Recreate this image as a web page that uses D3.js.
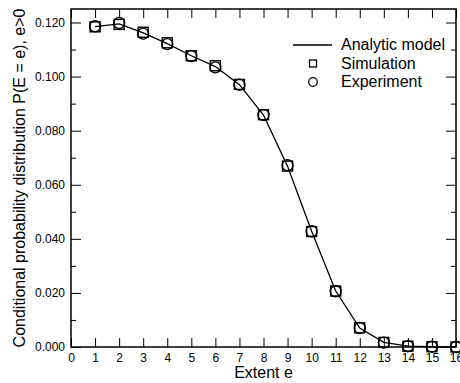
<!DOCTYPE html>
<html>
<head>
<meta charset="utf-8">
<script src="https://cdn.jsdelivr.net/npm/d3@7"></script>
<style>
  body { margin: 0; background: #fff; }
  text { font-family: "Liberation Sans", Arial, sans-serif; }
</style>
</head>
<body>
<script>
const extent = [1, 2, 3, 4, 5, 6, 7, 8, 9, 10, 11, 12, 13, 14, 15, 16]
const analytic = [0.1185, 0.1195, 0.1162, 0.1122, 0.1077, 0.1037, 0.0970, 0.0858,
  0.0668, 0.0428, 0.0207, 0.0070, 0.0017, 0.0003, 0.0001, 0.0000]
const simulation = [0.1184, 0.1193, 0.1164, 0.1125, 0.1077, 0.1040, 0.0971, 0.0859,
  0.0669, 0.0427, 0.0207, 0.0071, 0.0017, 0.0003, 0.0001, 0.0000]
const experiment = [0.1186, 0.1198, 0.1159, 0.1120, 0.1076, 0.1034, 0.0970, 0.0858,
  0.0672, 0.0428, 0.0206, 0.0070, 0.0016, 0.0003, 0.0001, 0.0000]
const xTicks = d3.range(0, 17)
const yMajor = [0, 0.02, 0.04, 0.06, 0.08, 0.1, 0.12]
const yMinor = [0.01, 0.03, 0.05, 0.07, 0.09, 0.11]
const legendItems = ['Analytic model', 'Simulation', 'Experiment']

const margin = {top: 9, right: 4, bottom: 36, left: 71}
const width = 460 - margin.left - margin.right,
  height = 383 - margin.top - margin.bottom

const svg = d3.select('body').append('svg')
  .attr('width', 460)
  .attr('height', 383)

const x = d3.scaleLinear().domain([0, 16]).range([0, width])
const y = d3.scaleLinear().domain([0, 0.125]).range([height, 0])

const g = svg.append('g').attr('transform', `translate(${margin.left},${margin.top})`)

// inward ticks on all four sides
g.append('g').attr('transform', `translate(0,${height})`)
  .call(d3.axisBottom(x).tickValues(xTicks).tickSize(-9).tickPadding(6).tickFormat(d3.format('d')))
g.append('g')
  .call(d3.axisTop(x).tickValues(xTicks).tickSize(-9).tickFormat(''))
g.append('g')
  .call(d3.axisLeft(y).tickValues(yMajor).tickSize(-10).tickPadding(6).tickFormat(d3.format('.3f')))
g.append('g')
  .call(d3.axisLeft(y).tickValues(yMinor).tickSize(-5).tickFormat(''))
g.append('g').attr('transform', `translate(${width},0)`)
  .call(d3.axisRight(y).tickValues(yMajor).tickSize(-10).tickFormat(''))
g.append('g').attr('transform', `translate(${width},0)`)
  .call(d3.axisRight(y).tickValues(yMinor).tickSize(-5).tickFormat(''))

g.selectAll('.domain').remove()
g.selectAll('.tick text').attr('font-size', 12).attr('fill', '#000').attr('font-family', '"Liberation Sans", Arial, sans-serif')
g.selectAll('.tick line').attr('stroke', '#000')

g.append('rect')
  .attr('width', width).attr('height', height)
  .attr('fill', 'none').attr('stroke', '#000').attr('stroke-width', 1.5)

const line = d3.line().x((d, i) => x(extent[i])).y(d => y(d))
g.append('path')
  .datum(analytic)
  .attr('d', line)
  .attr('fill', 'none').attr('stroke', '#000').attr('stroke-width', 1.3)

g.selectAll('rect.sim')
  .data(simulation)
  .enter()
  .append('rect')
  .attr('class', 'sim')
  .attr('x', (d, i) => x(extent[i]) - 5)
  .attr('y', d => y(d) - 5)
  .attr('width', 10).attr('height', 10)
  .attr('fill', 'none').attr('stroke', '#000').attr('stroke-width', 1.4)

g.selectAll('circle.exp')
  .data(experiment)
  .enter()
  .append('circle')
  .attr('class', 'exp')
  .attr('cx', (d, i) => x(extent[i]))
  .attr('cy', d => y(d))
  .attr('r', 5.5)
  .attr('fill', 'none').attr('stroke', '#000').attr('stroke-width', 1.4)

// legend
const lg = svg.append('g')
lg.append('line').attr('x1', 293).attr('x2', 332).attr('y1', 45).attr('y2', 45)
  .attr('stroke', '#000').attr('stroke-width', 1.3)
lg.append('rect').attr('x', 309.5).attr('y', 60).attr('width', 7).attr('height', 7)
  .attr('fill', 'none').attr('stroke', '#000').attr('stroke-width', 1.3)
lg.append('circle').attr('cx', 313).attr('cy', 82).attr('r', 4.3)
  .attr('fill', 'none').attr('stroke', '#000').attr('stroke-width', 1.3)
lg.selectAll('text')
  .data(legendItems)
  .enter()
  .append('text')
  .attr('x', 341)
  .attr('y', (d, i) => 50 + i * 18.5)
  .attr('font-size', 16)
  .text(d => d)

svg.append('text')
  .attr('x', margin.left + width / 2)
  .attr('y', 378)
  .attr('text-anchor', 'middle')
  .attr('font-size', 16)
  .text('Extent e')

svg.append('text')
  .attr('transform', `translate(25,${margin.top + height / 2}) rotate(-90)`)
  .attr('text-anchor', 'middle')
  .attr('font-size', 16)
  .text('Conditional probability distribution P(E = e), e>0')
</script>
</body>
</html>
